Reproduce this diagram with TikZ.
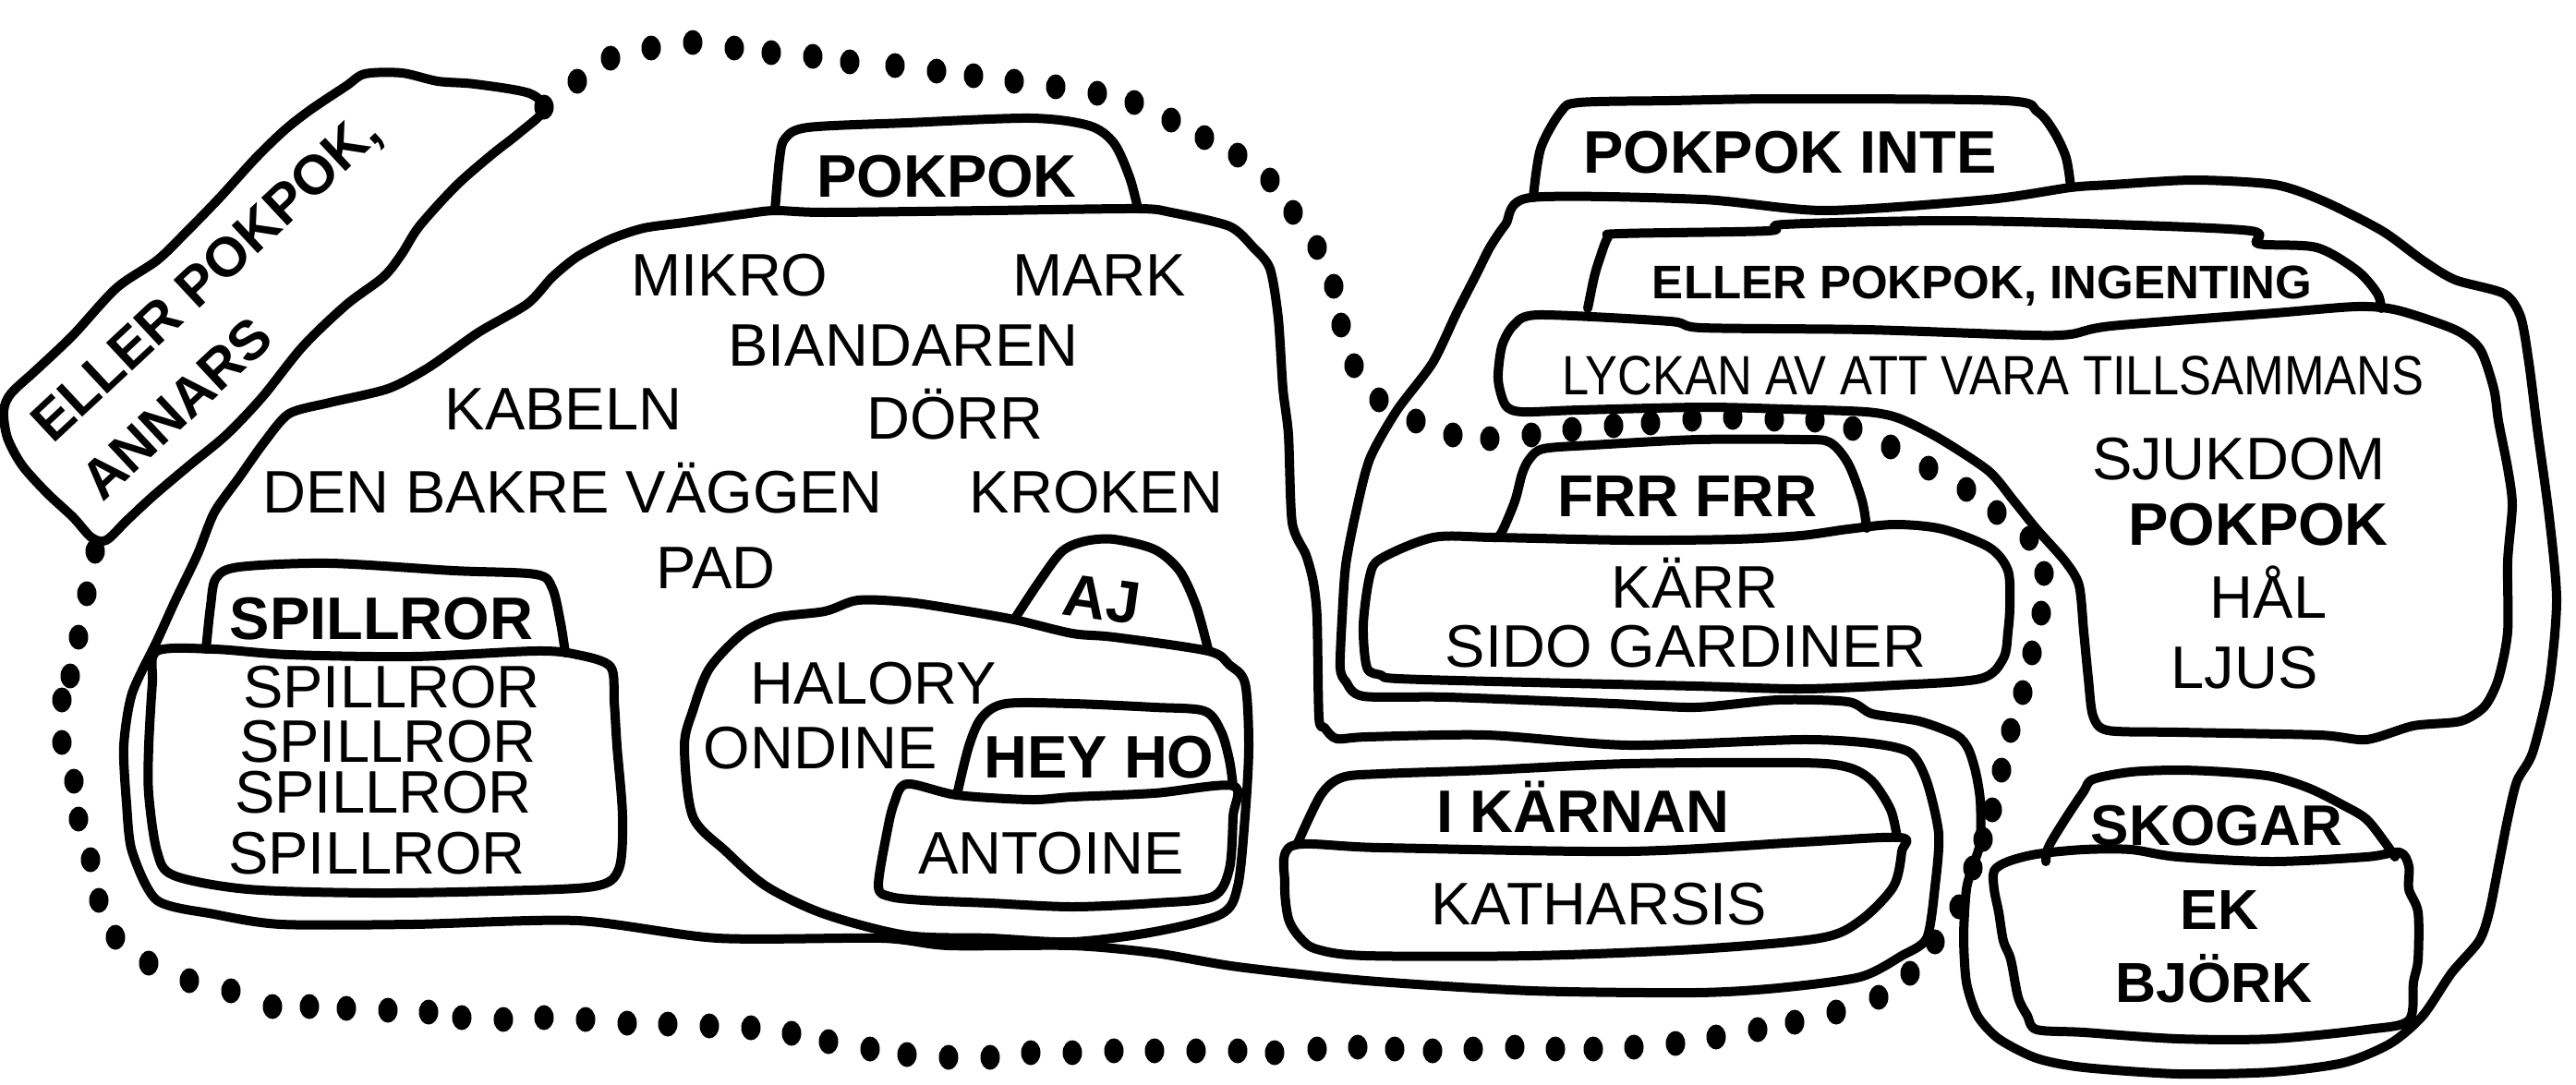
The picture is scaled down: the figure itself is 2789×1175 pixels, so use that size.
\documentclass[tikz,border=0pt]{standalone}
\usepackage{fontspec}
\setmainfont{Liberation Sans}
\begin{document}
\begin{tikzpicture}[x=1pt,y=-1pt,
  outl/.style={line width=10pt, line join=round, line cap=round},
  lbl/.style={inner sep=0pt, anchor=base, font=\fontsize{65}{70}\selectfont},
  blbl/.style={inner sep=0pt, anchor=base, font=\fontsize{65}{70}\selectfont\bfseries},
  tagtext/.style={inner sep=0pt, anchor=base west, rotate=43, font=\fontsize{60}{64}\selectfont\bfseries},
  dotmark/.style={fill=black}]
\fill[white] (0,0) rectangle (2789,1175);
\useasboundingbox (0,0) rectangle (2789,1175);

% ---------- dotted loop ----------
\foreach \x/\y in {589/116, 625/88, 661/63, 705/52, 750/46, 795/52, 835/57, 880/61, 920/67, 969/71, 1014/77, 1054/82, 1098/88, 1143/94, 1188/101, 1228/111, 1268/130, 1304/149, 1340/168, 1375/195, 1400/230, 1426/268, 1444/310, 1452/352, 1466/396, 1493/433, 1533/456, 1573/471, 1613/475, 1658/471, 1702/465, 1747/461, 1787/458, 1832/454, 1876/452, 1921/454, 1965/455, 2006/464, 2047/484, 2088/507, 2129/530, 2162/555, 2197/583, 2213/621, 2210/664, 2200/707, 2190/750, 2177/791, 2167/834, 2157/877, 2147/909, 2136/940, 2121/982, 2095/1020, 2068/1054, 2034/1080, 1988/1096, 1943/1107, 1903/1115, 1858/1123, 1814/1130, 1769/1134, 1725/1136, 1684/1136, 1640/1134, 1595/1136, 1551/1138, 1510/1136, 1470/1134, 1426/1136, 1380/1140, 1340/1138, 1295/1138, 1250/1138, 1206/1138, 1161/1140, 1116/1140, 1072/1145, 1027/1145, 982/1142, 942/1136, 897/1128, 857/1119, 813/1113, 768/1111, 723/1109, 679/1108, 634/1104, 589/1102, 545/1104, 500/1102, 464/1096, 420/1094, 375/1092, 335/1090, 295/1090, 250/1073, 205/1062, 161/1043, 125/1015, 107/975, 98/931, 85/887, 80/846, 67/804, 67/758, 76/732, 85/690, 94/643, 103/597}
  \fill[dotmark] (\x,\y) ellipse [x radius=10.5pt, y radius=13.5pt];

% ---------- tag ELLER POKPOK, ANNARS ----------
\draw[outl] plot[smooth cycle, tension=0.5] coordinates {(589,119) (573,101) (514,91) (474,88) (435,79) (395,80) (375,93) (336,119) (308,141) (277,171) (237,215) (201,252) (170,282) (126,312) (79,363) (40,400) (12,426) (4,445) (8,474) (24,504) (51,534) (79,560) (99,582) (115,585) (138,563) (166,537) (205,504) (245,471) (284,430) (328,375) (375,330) (415,300) (435,275) (454,245) (494,201) (533,167) (561,145)};
\node[tagtext] (tagA) at (57,482) {ELLER POKPOK,};
\node[tagtext] (tagB) at (111,545) {ANNARS};

% ---------- POKPOK region ----------
\draw[outl] plot[smooth cycle, tension=0.45] coordinates {(839,228) (804,232) (741,241) (697,247) (661,259) (625,278) (598,300) (571,329) (518,360) (464,398) (420,421) (357,436) (313,448) (286,479) (259,517) (232,555) (214,600) (190,650) (170,694) (143,751) (134,808) (137,870) (143,922) (170,975) (232,990) (304,1001) (447,1001) (625,997) (777,1016) (955,1016) (1027,1024) (1161,1024) (1250,1032) (1340,1047) (1479,1062) (1658,1073) (1836,1075) (1925,1070) (2014,1058) (2059,1035) (2086,1016) (2095,960) (2099,903) (2086,846) (2068,815) (2026,805) (1950,801) (1763,807) (1610,796) (1480,798) (1447,800) (1434,788) (1428,777) (1426,670) (1422,631) (1414,601) (1399,566) (1395,471) (1389,421) (1384,345) (1375,291) (1357,268) (1331,245) (1268,230) (1232,226) (1072,228) (893,230)};
\draw[outl] plot[smooth, tension=0.5] coordinates {(839,228) (844,172) (850,150) (875,138) (982,133) (1116,128) (1179,136) (1206,155) (1223,192) (1232,226)};
\node[blbl] (pokpokA) at (1025,213) {POKPOK};

\node[lbl] (mikro) at (790,320) {MIKRO};
\node[lbl] (mark) at (1190,320) {MARK};
\node[lbl] (biand) at (978,396) {BIANDAREN};
\node[lbl] (kabeln) at (610,465) {KABELN};
\node[lbl] (dorr) at (1034,475) {DÖRR};
\node[lbl] (vaggen) at (620,555) {DEN BAKRE VÄGGEN};
\node[lbl] (kroken) at (1187,555) {KROKEN};
\node[lbl] (pad) at (775,637) {PAD};

% SPILLROR
\draw[outl] plot[smooth, tension=0.5] coordinates {(223,703) (228,656) (234,626) (259,614) (357,610) (491,618) (580,622) (598,637) (607,675) (612,707)};
\draw[outl] plot[smooth cycle, tension=0.5] coordinates {(170,705) (232,703) (313,709) (447,711) (580,705) (625,709) (661,722) (665,760) (668,808) (674,884) (670,941) (643,960) (536,965) (402,967) (268,963) (188,948) (170,922) (161,860) (161,808) (165,740)};
\node[blbl] (spT) at (413,692) {SPILLROR};
\node[lbl] (sp1) at (424,766) {SPILLROR};
\node[lbl] (sp2) at (420,825) {SPILLROR};
\node[lbl] (sp3) at (415,880) {SPILLROR};
\node[lbl] (sp4) at (408,946) {SPILLROR};

% AJ / HALORY
\draw[outl] plot[smooth, tension=0.5] coordinates {(1098,671) (1125,630) (1150,597) (1175,586) (1206,584) (1250,595) (1277,618) (1295,656) (1308,703)};
\draw[outl] plot[smooth cycle, tension=0.5] coordinates {(1098,671) (1036,660) (982,652) (929,650) (893,662) (839,669) (804,686) (768,724) (750,770) (741,808) (750,884) (786,922) (830,960) (893,990) (982,1013) (1072,1016) (1161,1020) (1250,1009) (1322,990) (1340,960) (1348,884) (1352,808) (1348,740) (1331,720) (1308,705) (1206,690) (1161,686)};
\node[blbl, rotate=-8] (aj) at (1190,671) {AJ};
\node[lbl] (halory) at (946,762) {HALORY};
\node[lbl] (ondine) at (888,832) {ONDINE};

% HEY HO / ANTOINE
\draw[outl] plot[smooth, tension=0.5] coordinates {(1036,861) (1049,808) (1063,777) (1089,762) (1161,762) (1250,766) (1304,770) (1322,792) (1331,823) (1335,851)};
\draw[outl] plot[smooth cycle, tension=0.5] coordinates {(982,849) (1036,861) (1116,866) (1161,863) (1250,859) (1335,851) (1335,884) (1331,941) (1313,971) (1250,978) (1161,982) (1072,978) (1000,975) (964,971) (951,960) (960,903) (968,870)};
\node[blbl] (heyho) at (1190,842) {HEY HO};
\node[lbl] (antoine) at (1138,946) {ANTOINE};

% I KÄRNAN / KATHARSIS
\draw[outl] plot[smooth, tension=0.5] coordinates {(1405,913) (1430,861) (1453,842) (1495,838) (1610,834) (1763,827) (1950,826) (2001,831) (2027,846) (2047,877) (2054,907)};
\draw[outl] plot[smooth cycle, tension=0.5] coordinates {(1399,916) (1495,918) (1763,922) (1950,912) (2057,907) (2059,922) (2050,960) (2014,997) (1970,1016) (1836,1028) (1658,1035) (1479,1035) (1426,1028) (1408,1016) (1395,995) (1391,957)};
\node[blbl] (ikarnan) at (1714,901) {I KÄRNAN};
\node[lbl] (kath) at (1731,1001) {KATHARSIS};

% ---------- POKPOK INTE region ----------
\draw[outl] plot[smooth cycle, tension=0.45] coordinates {(2242,203) (2286,200) (2375,195) (2463,200) (2516,218) (2579,250) (2623,282) (2658,303) (2711,318) (2729,343) (2738,393) (2747,464) (2760,560) (2768,650) (2760,740) (2742,815) (2725,846) (2715,887) (2705,938) (2695,988) (2684,1019) (2654,1054) (2623,1100) (2588,1130) (2537,1151) (2460,1161) (2358,1163) (2256,1156) (2205,1146) (2164,1125) (2141,1100) (2129,1064) (2126,1014) (2129,963) (2136,938) (2144,912) (2144,867) (2139,836) (2131,811) (2118,796) (2078,781) (2027,773) (2001,760) (1925,758) (1836,766) (1747,762) (1568,755) (1476,754) (1457,738) (1451,723) (1453,670) (1457,612) (1468,555) (1483,497) (1512,445) (1551,393) (1577,339) (1599,296) (1613,268) (1630,243) (1657,214) (1843,216) (1976,228) (2153,216)};
\draw[outl] plot[smooth, tension=0.5] coordinates {(1660,214) (1668,161) (1690,121) (1710,111) (1808,109) (1932,107) (2171,109) (2206,121) (2224,143) (2237,171) (2242,203)};
\node[blbl] (pinte) at (1938,187) {POKPOK INTE};

% ELLER POKPOK, INGENTING tab
\draw[outl] plot[smooth, tension=0.5] coordinates {(1719,334) (1726,300) (1732,280) (1741,257) (1754,253) (1914,250) (1932,243) (2109,239) (2286,243) (2437,250) (2445,264) (2508,268) (2552,293) (2574,318) (2578,334)};
\node[inner sep=0pt, anchor=base, font=\fontsize{51}{56}\selectfont\bfseries] (ingen) at (2146,323) {ELLER POKPOK, INGENTING};

% LYCKAN region
\draw[outl] plot[smooth cycle, tension=0.45] coordinates {(1639,352) (1666,341) (1808,348) (1843,355) (2020,357) (2197,363) (2242,362) (2286,353) (2463,339) (2552,332) (2596,336) (2658,357) (2685,378) (2700,421) (2705,456) (2715,507) (2720,547) (2715,608) (2715,684) (2705,735) (2690,765) (2664,781) (2613,786) (2562,801) (2511,796) (2358,793) (2282,791) (2266,775) (2261,735) (2256,684) (2251,634) (2236,608) (2205,573) (2180,542) (2153,510) (2100,475) (2056,453) (2020,446) (1932,443) (1843,441) (1710,444) (1648,446) (1630,439) (1622,411) (1626,375)};
\node[inner sep=0pt, anchor=base, font=\fontsize{60}{64}\selectfont] (lyckan) at (2158,427) {\scalebox{0.873}[1]{LYCKAN AV ATT VARA TILLSAMMANS}};
\node[lbl] (sjuk) at (2424,519) {SJUKDOM};
\node[blbl] (pokpokB) at (2445,590) {POKPOK};
\node[lbl] (hal) at (2456,669) {HÅL};
\node[lbl] (ljus) at (2430,745) {LJUS};

% FRR FRR / KÄRR
\draw[outl] plot[smooth, tension=0.5] coordinates {(1617,582) (1625,578) (1640,543) (1648,513) (1656,497) (1671,486) (1724,482) (1839,476) (1950,476) (1981,479) (2001,502) (2016,542) (2021,572)};
\draw[outl] plot[smooth cycle, tension=0.5] coordinates {(1617,582) (1763,585) (1878,584) (1950,580) (2001,573) (2052,568) (2103,573) (2154,593) (2174,618) (2176,656) (2174,684) (2169,713) (2144,735) (2052,742) (1950,746) (1836,743) (1658,739) (1514,735) (1495,731) (1480,723) (1476,677) (1483,624) (1495,605) (1552,582)};
\node[inner sep=0pt, anchor=base, font=\fontsize{64}{68}\selectfont\bfseries] (frr) at (1827,559) {FRR FRR};
\node[lbl] (karr) at (1835,658) {KÄRR};
\node[lbl] (sido) at (1825,722) {SIDO GARDINER};

% SKOGAR / EK BJÖRK
\draw[outl] plot[smooth, tension=0.5] coordinates {(2215,933) (2218,917) (2236,887) (2256,857) (2266,844) (2307,836) (2358,834) (2409,836) (2460,841) (2501,854) (2537,872) (2562,887) (2582,912) (2593,928)};
\draw[outl] plot[smooth cycle, tension=0.5] coordinates {(2205,925) (2256,920) (2307,920) (2358,928) (2460,933) (2562,928) (2598,923) (2608,938) (2608,963) (2618,988) (2618,1039) (2613,1064) (2608,1105) (2562,1115) (2460,1125) (2358,1125) (2256,1118) (2205,1115) (2195,1100) (2185,1080) (2177,1039) (2169,1019) (2164,988) (2159,963) (2159,943) (2174,933)};
\node[inner sep=0pt, anchor=base, font=\fontsize{62}{66}\selectfont\bfseries] (skogar) at (2400,915) {SKOGAR};
\node[inner sep=0pt, anchor=base, font=\fontsize{61}{66}\selectfont\bfseries] (ek) at (2403,1006) {EK};
\node[inner sep=0pt, anchor=base, font=\fontsize{61}{66}\selectfont\bfseries] (bjork) at (2397,1085) {BJÖRK};
\end{tikzpicture}
\end{document}
